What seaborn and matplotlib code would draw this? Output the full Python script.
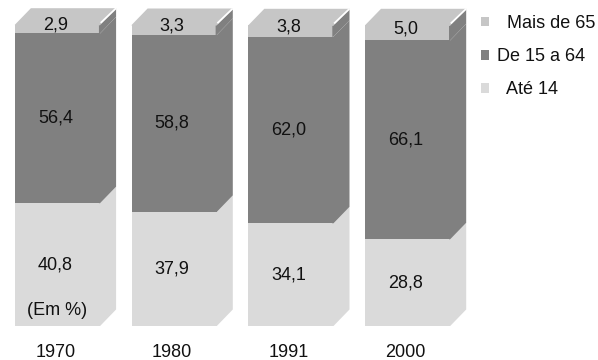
import matplotlib
matplotlib.use("Agg")
import matplotlib.pyplot as plt
import matplotlib.transforms as mtransforms
from matplotlib.patches import Patch, Polygon
import seaborn as sns
import numpy as np
import pandas as pd

# ---- data ----
years = ["1970", "1980", "1991", "2000"]
ate14 = [40.8, 37.9, 34.1, 28.8]
de15a64 = [56.4, 58.8, 62.0, 66.1]
mais65 = [2.9, 3.3, 3.8, 5.0]
legend_labels = ["  Mais de 65", "De 15 a 64", "  Até 14"]
note = "(Em %)"


def fmt(v):
    return f"{v:.1f}".replace(".", ",")


sns.set_theme(style="white")
plt.rcParams["font.family"] = ["Liberation Sans", "DejaVu Sans"]

W, H = 598, 360
fig = plt.figure(figsize=(W / 100, H / 100), dpi=100)
fig.patch.set_facecolor("white")
ax = fig.add_axes([-0.85 / W, 34 / H, 466.8 / W, 301 / H])
ax.set_facecolor("white")

c_top, c_mid, c_bot = "#c6c6c6", "#808080", "#dadada"

low = np.array(ate14)
mid = low + np.array(de15a64)
top = mid + np.array(mais65)
df = pd.DataFrame({"year": years, "low": low, "mid": mid, "top": top})

for col, c in [("top", c_top), ("mid", c_mid), ("low", c_bot)]:
    sns.barplot(data=df, x="year", y=col, color=c, saturation=1, width=0.73,
                linewidth=0, ax=ax)

ax.set_xlim(-0.5, 3.5)
ax.set_ylim(0, 100)

dx = 16 / 116.7
dy = 16.5 / 3.01
ov = 0.01  # small overlap with the front face to avoid seams

front = ax.patches[:4]
for i, p in enumerate(front):
    x0 = p.get_x()
    w = p.get_width()
    xr = x0 + w
    segs = [(0, low[i], c_bot), (low[i], mid[i], c_mid), (mid[i], top[i], c_mid)]
    for y0, y1, c in segs:
        ax.add_patch(Polygon([(xr - ov, y0), (xr, y0), (xr + dx, y0 + dy), (xr + dx, y1 + dy),
                              (xr, y1), (xr - ov, y1)],
                             closed=True, fc=c, ec="none", lw=0, clip_on=False, zorder=2))
    ax.add_patch(Polygon([(x0, top[i] - 0.2), (x0, top[i]), (x0 + dx, top[i] + dy),
                          (xr + dx, top[i] + dy), (xr, top[i]), (xr, top[i] - 0.2)],
                         closed=True, fc=c_top, ec="none", lw=0, clip_on=False, zorder=2))
    ax.plot([xr + 0.005, xr + dx], [top[i] + 0.6, top[i] + dy], color="white", lw=1.3,
            clip_on=False, zorder=3, solid_capstyle="butt")

off = mtransforms.offset_copy(ax.transData, fig=fig, x=-2, y=0, units="dots")
tc = "#111111"
for i, p in enumerate(front):
    cx = p.get_x() + p.get_width() / 2
    ax.text(cx, low[i] / 2, fmt(ate14[i]), transform=off, ha="center", va="center",
            fontsize=13, color=tc, zorder=4)
    ax.text(cx, (low[i] + mid[i]) / 2, fmt(de15a64[i]), transform=off, ha="center",
            va="center", fontsize=13, color=tc, zorder=4)
    ax.text(cx, (mid[i] + top[i]) / 2 + 1.3, fmt(mais65[i]), transform=off, ha="center",
            va="center", fontsize=13, color=tc, zorder=4)

ax.text(0.01, 5.3, note, transform=off, ha="center", va="center", fontsize=13,
        color=tc, zorder=4)

ax.set_xlabel("")
ax.set_ylabel("")
ax.set_yticks([])
ax.tick_params(axis="x", length=0, pad=13, labelsize=13, labelcolor=tc)
for lab in ax.get_xticklabels():
    lab.set_transform(lab.get_transform() + mtransforms.ScaledTranslation(-2 / 100, 0, fig.dpi_scale_trans))
sns.despine(ax=ax, left=True, bottom=True)

handles = [Patch(fc=c_top, ec="none"), Patch(fc=c_mid, ec="none"), Patch(fc=c_bot, ec="none")]
fig.legend(handles, legend_labels, loc="upper left", bbox_to_anchor=(481 / W, 1 - 15 / H),
           frameon=False, borderpad=0, borderaxespad=0, handlelength=0.45,
           handleheight=0.45, handletextpad=0.45, labelspacing=0.9, fontsize=13,
           labelcolor=tc)

fig.savefig("out.png", dpi=100, facecolor="white")
